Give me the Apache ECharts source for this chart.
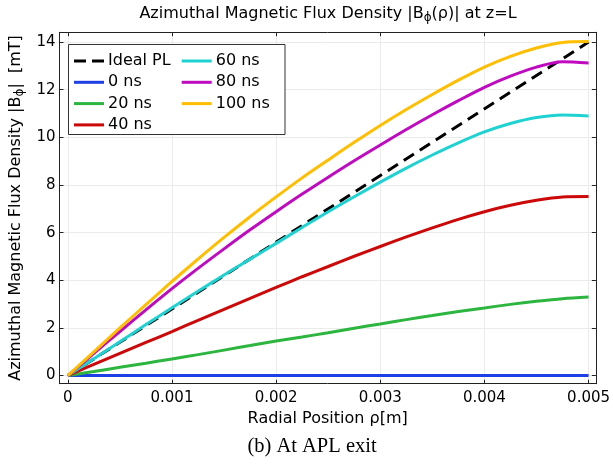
<!DOCTYPE html>
<html>
<head>
<meta charset="utf-8">
<script src="https://cdn.jsdelivr.net/npm/echarts@6/dist/echarts.min.js"></script>
<style>html,body{margin:0;padding:0;background:#fff}#c{width:613px;height:464px}</style>
</head>
<body>
<div id="c"></div>
<script>
// ---- data ----
const rho = [0, 0.00025, 0.0005, 0.00075, 0.001, 0.00125, 0.0015, 0.00175, 0.002, 0.00225, 0.0025,
             0.00275, 0.003, 0.00325, 0.0035, 0.00375, 0.004, 0.00425, 0.0045, 0.00475, 0.005];
const idealRho = [0, 0.005];
const idealPL = [0, 14];
const b0ns   = [0, 0, 0, 0, 0, 0, 0, 0, 0, 0, 0, 0, 0, 0, 0, 0, 0, 0, 0, 0, 0];
const b20ns  = [0, 0.17, 0.35, 0.52, 0.70, 0.88, 1.07, 1.26, 1.45, 1.62, 1.80, 1.99, 2.17, 2.35, 2.52, 2.69, 2.84, 2.99, 3.12, 3.23, 3.30];
const b40ns  = [0, 0.47, 0.93, 1.39, 1.85, 2.32, 2.78, 3.24, 3.70, 4.15, 4.58, 5.01, 5.42, 5.82, 6.20, 6.56, 6.88, 7.15, 7.36, 7.50, 7.52];
const b60ns  = [0, 0.71, 1.42, 2.14, 2.85, 3.54, 4.22, 4.89, 5.55, 6.22, 6.88, 7.51, 8.12, 8.71, 9.26, 9.77, 10.23, 10.58, 10.83, 10.94, 10.90];
const b80ns  = [0, 0.93, 1.85, 2.76, 3.65, 4.50, 5.32, 6.12, 6.88, 7.62, 8.33, 9.02, 9.68, 10.33, 10.95, 11.54, 12.10, 12.57, 12.95, 13.17, 13.12];
const b100ns = [0, 1.00, 2.00, 2.98, 3.95, 4.89, 5.80, 6.67, 7.50, 8.30, 9.05, 9.79, 10.50, 11.17, 11.80, 12.40, 12.95, 13.40, 13.75, 13.98, 14.02];
const xTicks = [0, 0.001, 0.002, 0.003, 0.004, 0.005];
const yTicks = [0, 2, 4, 6, 8, 10, 12, 14];
const legendCol1 = ['Ideal PL', '0 ns', '20 ns', '40 ns'];
const legendCol2 = ['60 ns', '80 ns', '100 ns'];

const FONT = 'DejaVu Sans';
const pairs = (xs, ys) => xs.map((x, i) => [x, ys[i]]);

function lineSeries(name, xs, ys, color, dashed) {
  return {
    name, type: 'line', data: pairs(xs, ys), smooth: dashed ? false : 0.3,
    symbol: 'none', showSymbol: false, xAxisIndex: 0, yAxisIndex: 0,
    lineStyle: { color, width: 3, type: dashed ? [12, 7] : 'solid' },
    itemStyle: { color }
  };
}

const solidIcon = 'rect';
const dashIcon = 'path://M0,0h12v3h-12z M18,0h12v3h-12z';
function legendItems(names) {
  return names.map(n => ({ name: n, icon: n === 'Ideal PL' ? dashIcon : solidIcon }));
}

const chart = echarts.init(document.getElementById('c'), null, { renderer: 'canvas' });

const xMin = -0.00008, xMax = 0.00507, yMin = -0.34, yMax = 14.41;
const tickStyle = { show: true, inside: true, length: 4, lineStyle: { color: '#222', width: 1 } };
const legendBase = {
  orient: 'vertical', top: 53, padding: 0, itemWidth: 30, itemHeight: 3, itemGap: 5.3, z: 10,
  textStyle: { color: '#000', fontFamily: FONT, fontSize: 16, lineHeight: 16, padding: [0, 0, 0, -1] }
};

chart.setOption({
  animation: false,
  backgroundColor: '#fff',
  grid: { left: 57.3, right: 13.7, top: 32.3, bottom: 80.3, containLabel: false },
  xAxis: [{
    type: 'value', min: xMin, max: xMax, position: 'bottom',
    axisLine: { show: true, onZero: false, lineStyle: { color: '#222', width: 1 } },
    axisTick: Object.assign({ customValues: xTicks }, tickStyle),
    axisLabel: { customValues: xTicks, margin: 7, color: '#000', fontFamily: FONT, fontSize: 15,
      formatter: v => (v === 0 ? '0' : v.toFixed(3)) },
    splitLine: { show: true, lineStyle: { color: '#ebebeb', width: 1 } },
    name: 'Radial Position ρ[m]', nameLocation: 'middle', nameGap: 17,
    nameTextStyle: { color: '#000', fontFamily: FONT, fontSize: 16 }
  }, {
    type: 'value', min: xMin, max: xMax, position: 'top',
    axisLine: { show: true, onZero: false, lineStyle: { color: '#222', width: 1 } },
    axisTick: Object.assign({ customValues: xTicks }, tickStyle),
    axisLabel: { show: false }, splitLine: { show: false }
  }],
  yAxis: [{
    type: 'value', min: yMin, max: yMax, position: 'left',
    axisLine: { show: true, onZero: false, lineStyle: { color: '#222', width: 1 } },
    axisTick: Object.assign({ customValues: yTicks }, tickStyle),
    axisLabel: { customValues: yTicks, margin: 4, color: '#000', fontFamily: FONT, fontSize: 15 },
    splitLine: { show: true, lineStyle: { color: '#ebebeb', width: 1 } },
    name: '{n|Azimuthal Magnetic Flux Density |B}{s|ϕ}{n||  [mT]}',
    nameLocation: 'middle', nameGap: 29, nameRotate: 90,
    nameTextStyle: { color: '#000', fontFamily: FONT, fontSize: 16,
      rich: { n: { fontFamily: FONT, fontSize: 16, lineHeight: 19, color: '#000' },
              s: { fontFamily: FONT, fontSize: 12, lineHeight: 12, verticalAlign: 'bottom', color: '#000' } } }
  }, {
    type: 'value', min: yMin, max: yMax, position: 'right',
    axisLine: { show: true, onZero: false, lineStyle: { color: '#222', width: 1 } },
    axisTick: Object.assign({ customValues: yTicks }, tickStyle),
    axisLabel: { show: false }, splitLine: { show: false }
  }],
  legend: [
    Object.assign({ data: legendItems(legendCol1), left: 74 }, legendBase),
    Object.assign({ data: legendItems(legendCol2), left: 181.7 }, legendBase)
  ],
  graphic: [
    { type: 'rect', z: 5, shape: { x: 68.5, y: 44.5, width: 216.5, height: 90 },
      style: { fill: '#fff', stroke: '#333', lineWidth: 1 } },
    { type: 'text', z: 6, x: 328, y: 14,
      style: { text: '{n|Azimuthal Magnetic Flux Density |B}{s|ϕ}{n|(ρ)| at z=L}',
        align: 'center', verticalAlign: 'middle', fill: '#000',
        rich: { n: { fontFamily: FONT, fontSize: 16, lineHeight: 19, fill: '#000' },
                s: { fontFamily: FONT, fontSize: 12, lineHeight: 12, verticalAlign: 'bottom', fill: '#000' } } } },
    { type: 'text', z: 6, x: 312, y: 447,
      style: { text: '(b) At APL exit', align: 'center', verticalAlign: 'middle', fill: '#000',
        fontFamily: 'Liberation Serif', fontSize: 20.5 } }
  ],
  series: [
    lineSeries('Ideal PL', idealRho, idealPL, '#000000', true),
    lineSeries('0 ns', rho, b0ns, '#1f3fe6', false),
    lineSeries('20 ns', rho, b20ns, '#2cb53f', false),
    lineSeries('40 ns', rho, b40ns, '#cc0808', false),
    lineSeries('60 ns', rho, b60ns, '#1fd2d2', false),
    lineSeries('80 ns', rho, b80ns, '#bf0ac0', false),
    lineSeries('100 ns', rho, b100ns, '#ffbe00', false)
  ]
});
</script>
</body>
</html>
